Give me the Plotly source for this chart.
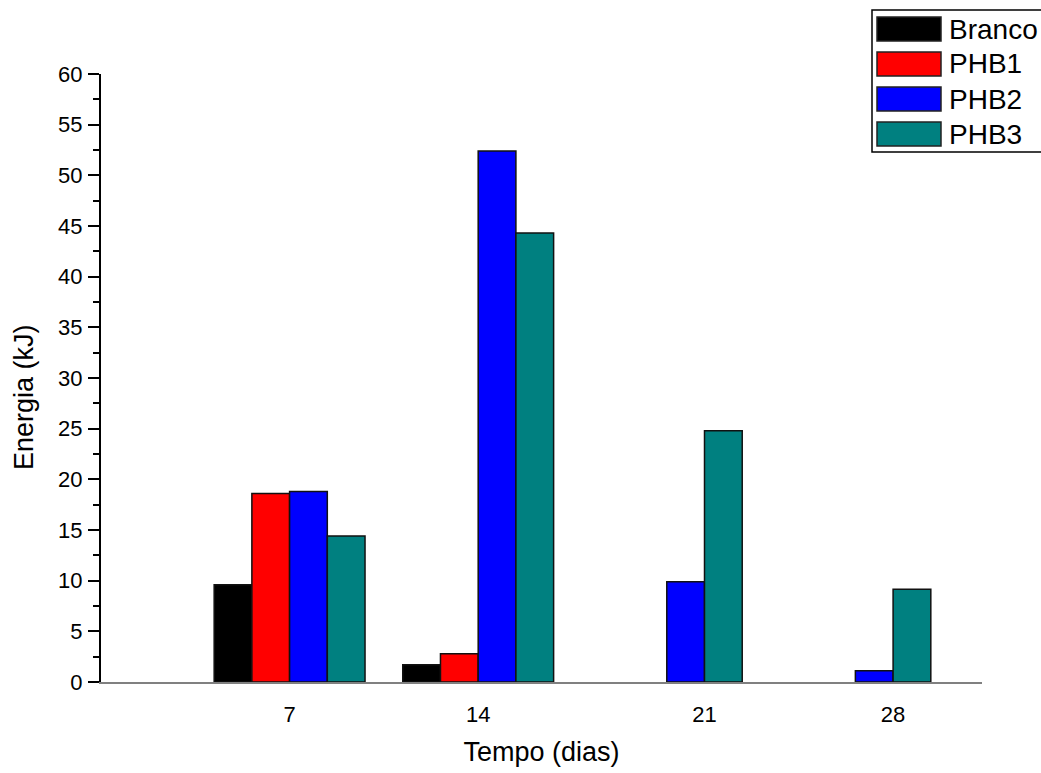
import plotly.graph_objects as go

# Energia liberada por tempo de incubação
dias = [7, 14, 21, 28]
series = ["Branco", "PHB1", "PHB2", "PHB3"]
branco = [9.6, 1.7, None, None]
phb1 = [18.6, 2.8, None, None]
phb2 = [18.8, 52.4, 9.9, 1.1]
phb3 = [14.4, 44.3, 24.8, 9.15]
valores = [branco, phb1, phb2, phb3]
cores = ["#000000", "#FF0000", "#0000FF", "#008080"]

W, H = 1041, 773
ML, MR, MT, MB = 101, 59, 74, 91
BARGAP = 0.2

fig = go.Figure()
for nome, vals, cor in zip(series, valores, cores):
    fig.add_trace(go.Bar(
        x=dias, y=vals, name=nome, showlegend=False,
        marker=dict(color=cor, line=dict(color="#111111", width=1.5)),
    ))

# Rótulos do eixo x centrados sob as barras existentes em cada grupo
passo = dias[1] - dias[0]
larg = passo * (1 - BARGAP) / len(series)
tick_pos = []
for j, d in enumerate(dias):
    offs = [(i - (len(series) - 1) / 2) * larg
            for i, vals in enumerate(valores) if vals[j] is not None]
    tick_pos.append(d + sum(offs) / len(offs))

fig.update_layout(
    width=W, height=H,
    margin=dict(l=ML, r=MR, t=MT, b=MB),
    paper_bgcolor="white", plot_bgcolor="white",
    barmode="group", bargap=BARGAP, bargroupgap=0,
    font=dict(family="Arial, Liberation Sans, sans-serif", color="black"),
    xaxis=dict(
        range=[0, 32.7], tickmode="array", tickvals=tick_pos,
        ticktext=[str(d) for d in dias], ticks="", showgrid=False,
        zeroline=False, showline=True, linecolor="#808080", linewidth=2,
        tickfont=dict(size=22), ticklabelstandoff=12,
        title=dict(text="Tempo (dias)", font=dict(size=27), standoff=16),
    ),
    yaxis=dict(
        range=[0, 60], dtick=5, ticks="outside", ticklen=11, tickwidth=2,
        tickcolor="black", showgrid=False, zeroline=False,
        showline=True, linecolor="black", linewidth=2,
        tickfont=dict(size=22), ticklabelstandoff=1,
        minor=dict(dtick=2.5, ticks="outside", ticklen=6, tickwidth=2,
                   tickcolor="black", showgrid=False),
    ),
)

# Conversão de pixels da página para coordenadas "paper"
pw = W - ML - MR
ph = H - MT - MB


def px(x):
    return (x - ML) / pw


def py(y):
    return 1 - (y - MT) / ph


annotations = [dict(xref="paper", yref="paper", x=px(24), y=py(397),
                    text="Energia (kJ)", textangle=-90, showarrow=False,
                    xanchor="center", yanchor="middle",
                    font=dict(size=27, color="black"))]

# Legenda desenhada com retângulos e textos
shapes = [dict(type="rect", xref="paper", yref="paper",
               x0=px(872), x1=px(1050), y0=py(10), y1=py(152),
               line=dict(color="black", width=1.5), fillcolor="white",
               layer="above")]
for k, (nome, cor) in enumerate(zip(series, cores)):
    top = 17 + k * 35
    shapes.append(dict(type="rect", xref="paper", yref="paper",
                       x0=px(877), x1=px(941), y0=py(top), y1=py(top + 24),
                       line=dict(color="#222222", width=1.5), fillcolor=cor,
                       layer="above"))
    annotations.append(dict(xref="paper", yref="paper", x=px(947),
                            y=py(top + 12), text=nome, showarrow=False,
                            xanchor="left", yanchor="middle",
                            font=dict(size=28, color="black")))
fig.update_layout(shapes=shapes, annotations=annotations)

fig.write_html("out.html")
